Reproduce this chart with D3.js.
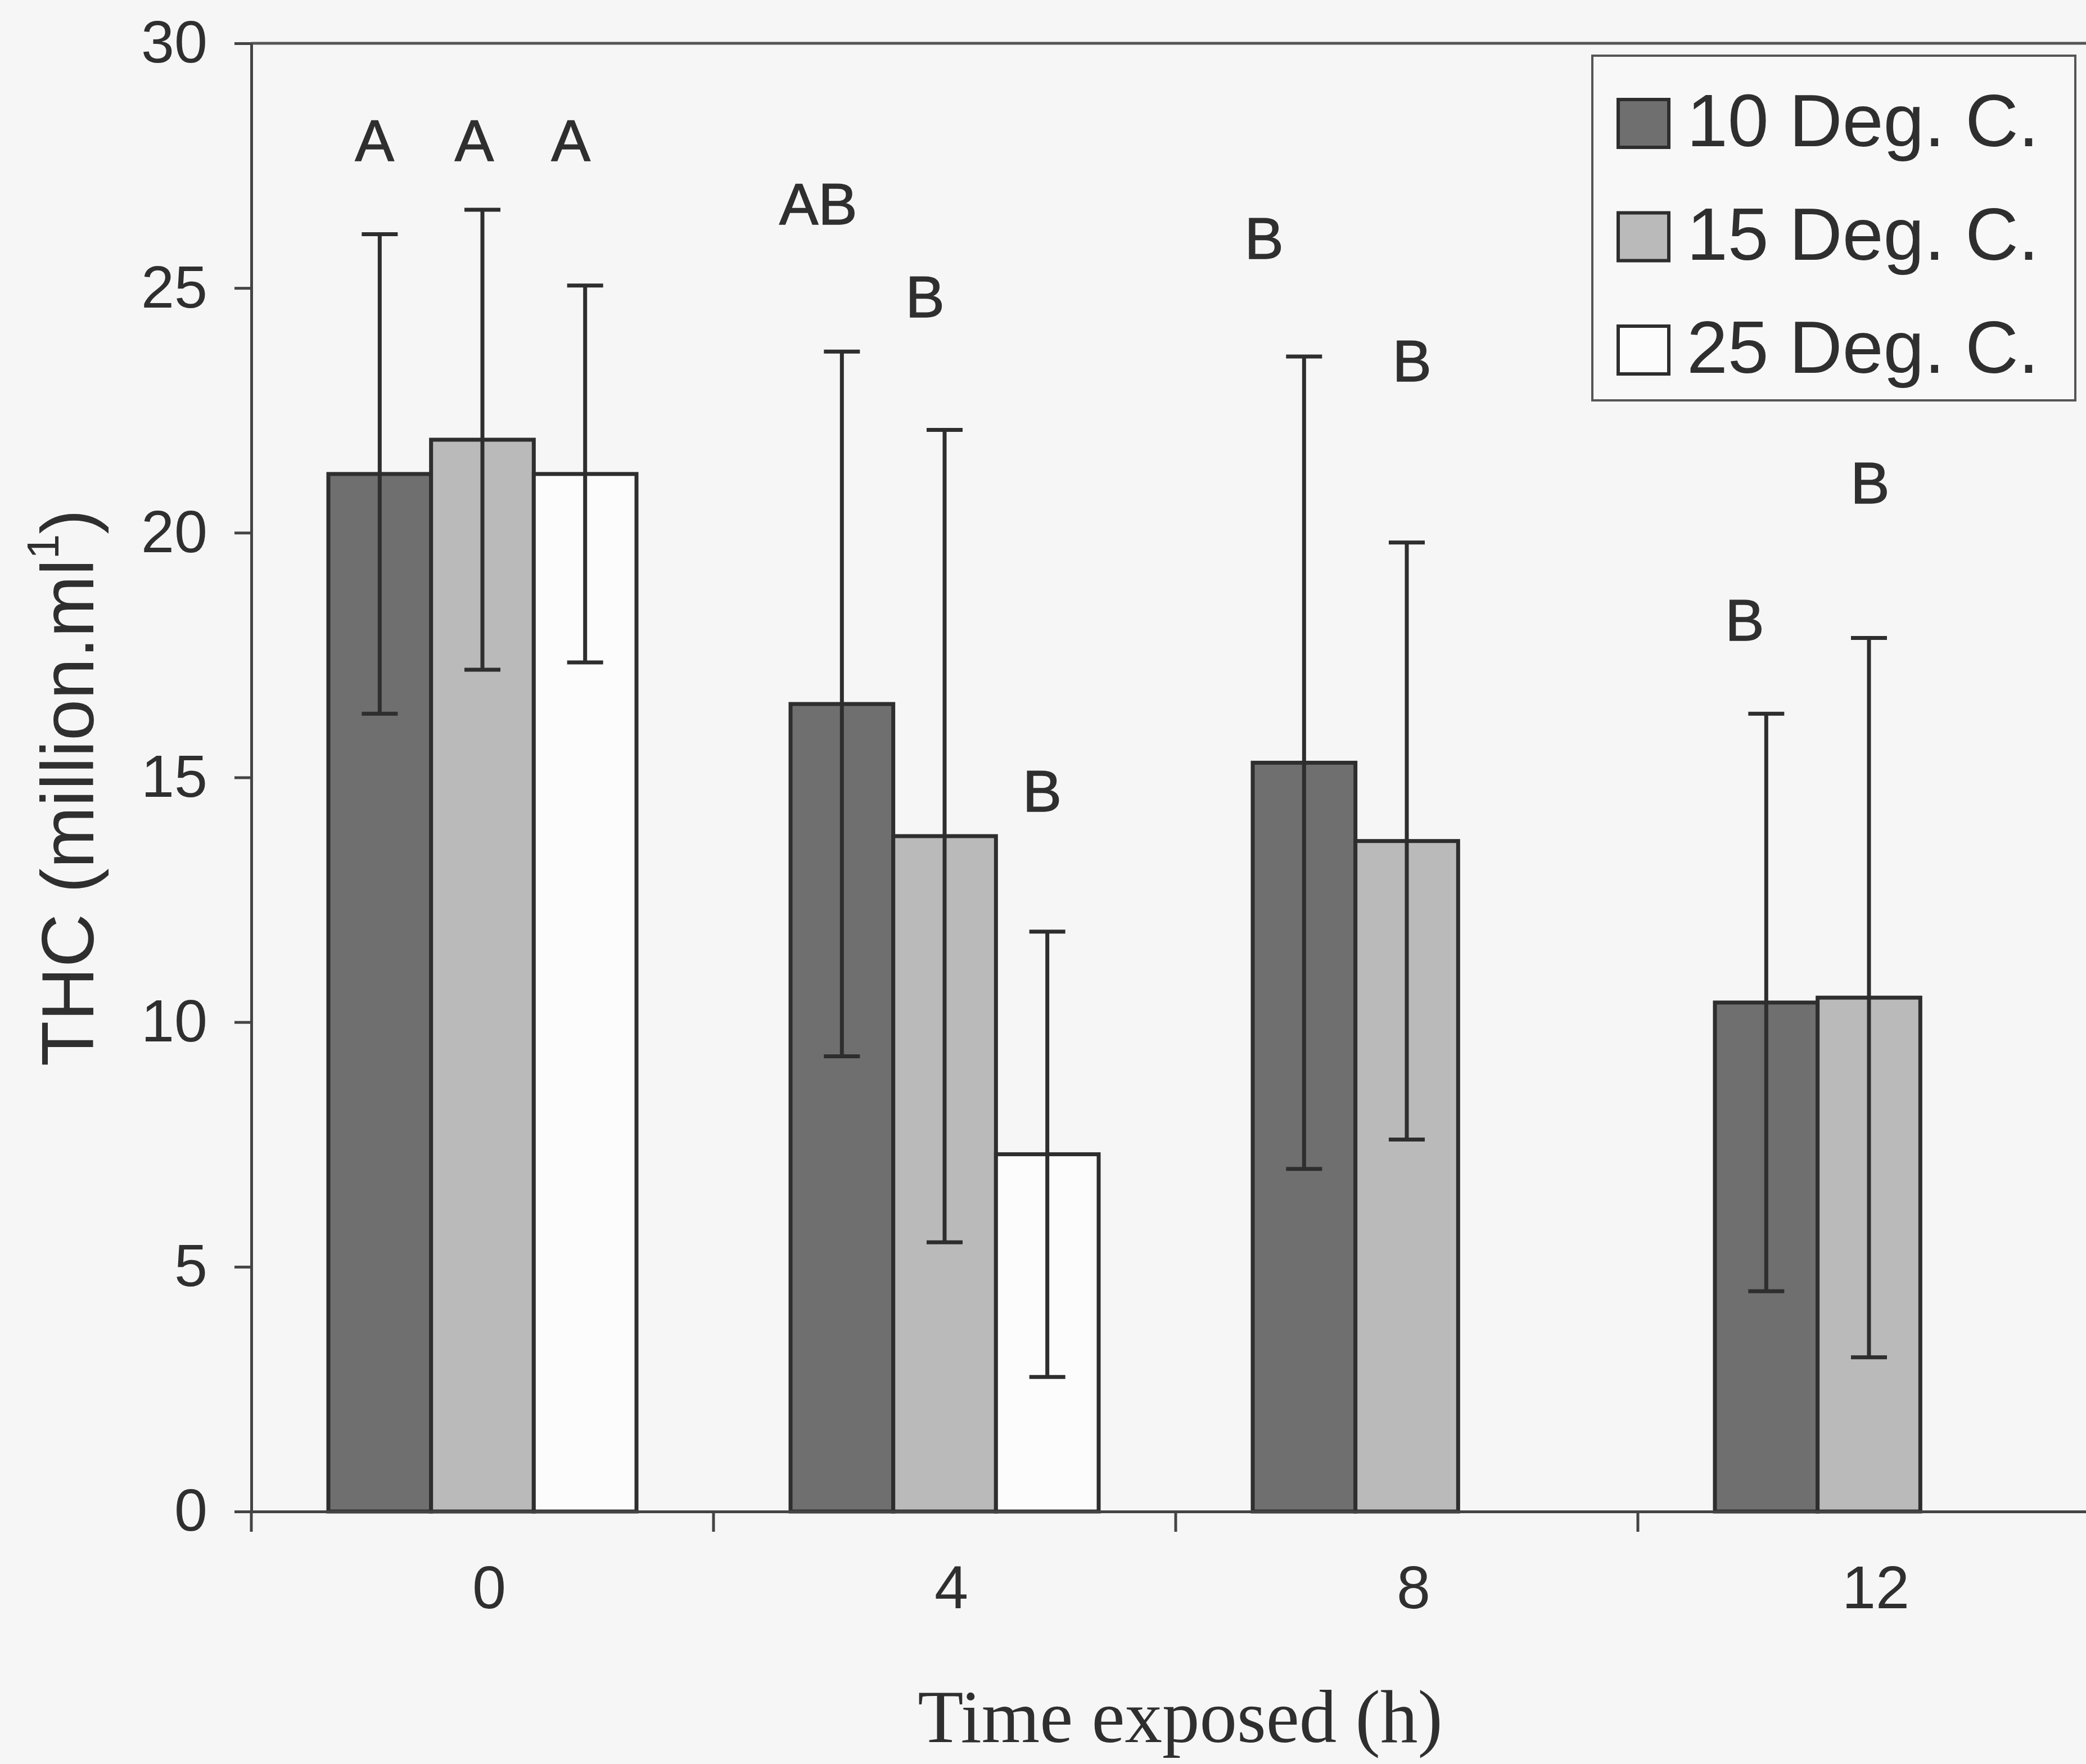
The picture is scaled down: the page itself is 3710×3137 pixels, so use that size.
<!DOCTYPE html>
<html>
<head>
<meta charset="utf-8">
<script src="https://cdn.jsdelivr.net/npm/d3@7"></script>
<style>
  body { margin: 0; background: #f6f6f6; }
  svg { display: block; }
  text { font-family: 'Liberation Sans', Arial, sans-serif; fill: #2f2f2f; }
  .x-title { font-family: 'Liberation Serif', 'Times New Roman', serif; }
</style>
</head>
<body>
<svg width="3710" height="3137"></svg>
<script>
const categories = ['0', '4', '8', '12'];
const seriesNames = ['10 Deg. C.', '15 Deg. C.', '25 Deg. C.'];

const means10 = [21.2, 16.5, 15.3, 10.4];
const means15 = [21.9, 13.8, 13.7, 10.5];
const means25 = [21.2, 7.3, null, null];

const err10 = [4.9, 7.2, 8.3, 5.9];
const err15 = [4.7, 8.3, 6.1, 7.35];
const err25 = [3.85, 4.55, null, null];

// significance letters, with the height (in THC units) they sit at
const letters10 = ['A', 'AB', 'B', 'B'];
const letters15 = ['A', 'B', 'B', 'B'];
const letters25 = ['A', 'B', null, null];
const letterLevel10 = [27.6, 26.3, 25.6, 17.8];
const letterLevel15 = [27.6, 24.4, 23.1, 20.6];
const letterLevel25 = [27.6, 14.3, null, null];

const yTicks = [0, 5, 10, 15, 20, 25, 30];

const xAxisLabelText = 'Time exposed (h)';
const yAxisLabelText = 'THC (million.ml';

// layout only
const letterShift = [[-0.05, -0.23, -0.39, -0.21], [-0.08, -0.19, 0.05, 0.01], [-0.14, -0.05, 0, 0]];
const fills = ['#6f6f6f', '#bababa', '#fcfcfc'];

const svg = d3.select('svg');
const width = +svg.attr('width');
const height = +svg.attr('height');

svg.append('rect')
  .attr('width', width)
  .attr('height', height)
  .attr('fill', '#f6f6f6');

const means = [means10, means15, means25];
const errs = [err10, err15, err25];
const letters = [letters10, letters15, letters25];
const letterLevels = [letterLevel10, letterLevel15, letterLevel25];

const rows = [];
categories.forEach((c, i) => {
  seriesNames.forEach((s, j) => {
    rows.push({
      cat: c, series: s, si: j,
      value: means[j][i], err: errs[j][i],
      letter: letters[j][i], level: letterLevels[j][i],
      shift: letterShift[j][i]
    });
  });
});

const margin = { top: 77, right: -25, bottom: 449, left: 447 };
const innerWidth = width - margin.left - margin.right;
const innerHeight = height - margin.top - margin.bottom;

const x0 = d3.scaleBand()
  .domain(categories)
  .range([0, innerWidth]);

const x1 = d3.scaleBand()
  .domain(seriesNames)
  .range([0, x0.bandwidth()])
  .paddingInner(0)
  .paddingOuter(0.75);

const y = d3.scaleLinear()
  .domain([0, 30])
  .range([innerHeight, 0]);

const g = svg.append('g')
  .attr('transform', `translate(${margin.left},${margin.top})`);

const bw = x1.bandwidth();
const barX = d => x0(d.cat) + x1(d.series);

// top border of the plot area
g.append('line')
  .attr('x1', 0).attr('x2', innerWidth)
  .attr('y1', y(30)).attr('y2', y(30))
  .attr('stroke', '#555').attr('stroke-width', 5);

// bars
g.selectAll('rect.bar').data(rows.filter(d => d.value != null))
  .enter().append('rect')
    .attr('class', 'bar')
    .attr('x', barX)
    .attr('y', d => y(d.value))
    .attr('width', bw)
    .attr('height', d => innerHeight - y(d.value))
    .attr('fill', d => fills[d.si])
    .attr('stroke', '#2e2e2e')
    .attr('stroke-width', 7);

// error bars
const eb = g.selectAll('g.err').data(rows.filter(d => d.value != null))
  .enter().append('g')
    .attr('class', 'err')
    .attr('transform', d => `translate(${barX(d) + bw / 2},0)`)
    .attr('stroke', '#2e2e2e')
    .attr('stroke-width', 7);

eb.append('line')
  .attr('y1', d => y(d.value + d.err))
  .attr('y2', d => y(d.value - d.err));

eb.selectAll('line.cap')
  .data(d => [d.value + d.err, d.value - d.err])
  .enter().append('line')
    .attr('class', 'cap')
    .attr('x1', -32).attr('x2', 32)
    .attr('y1', v => y(v)).attr('y2', v => y(v));

// y axis
const yAxisG = g.append('g')
  .call(d3.axisLeft(y).tickValues(yTicks).tickSize(30).tickSizeOuter(0).tickPadding(48));
yAxisG.select('.domain').attr('stroke', '#444').attr('stroke-width', 5);
yAxisG.selectAll('.tick line').attr('stroke', '#444').attr('stroke-width', 5);
yAxisG.selectAll('.tick text')
  .attr('font-size', 106)
  .attr('fill', '#2f2f2f')
  .attr('font-family', "'Liberation Sans', Arial, sans-serif");

// x axis
const xAxisG = g.append('g')
  .attr('transform', `translate(0,${innerHeight})`)
  .call(d3.axisBottom(x0).tickSize(0).tickSizeOuter(0).tickPadding(95));
xAxisG.select('.domain').attr('stroke', '#444').attr('stroke-width', 5);
xAxisG.selectAll('.tick text')
  .attr('font-size', 108)
  .attr('dx', 12)
  .attr('fill', '#2f2f2f')
  .attr('font-family', "'Liberation Sans', Arial, sans-serif");

const boundaries = categories.map(c => x0(c)).concat([x0.range()[1]]);
xAxisG.selectAll('line.cat-tick').data(boundaries)
  .enter().append('line')
    .attr('class', 'cat-tick')
    .attr('x1', d => d).attr('x2', d => d)
    .attr('y1', 0).attr('y2', 36)
    .attr('stroke', '#444').attr('stroke-width', 5);

// significance letters
g.selectAll('text.letter').data(rows.filter(d => d.letter))
  .enter().append('text')
    .attr('class', 'letter')
    .attr('x', d => barX(d) + bw / 2 + d.shift * bw)
    .attr('y', d => y(d.level))
    .attr('text-anchor', 'middle')
    .attr('font-size', 104)
    .attr('stroke', '#2f2f2f')
    .attr('stroke-width', 1.5)
    .text(d => d.letter);

// axis titles
svg.append('text')
  .attr('class', 'x-title')
  .attr('x', 2099)
  .attr('y', 3098)
  .attr('text-anchor', 'middle')
  .attr('font-size', 133)
  .text(xAxisLabelText);

const yTitle = svg.append('text')
  .attr('transform', 'translate(166,1401) rotate(-90)')
  .attr('text-anchor', 'middle')
  .attr('font-size', 132);
yTitle.append('tspan').text(yAxisLabelText);
yTitle.append('tspan').attr('font-size', 80).attr('dy', -62).text('1');
yTitle.append('tspan').attr('dy', 62).text(')');

// legend
const legend = svg.append('g')
  .attr('transform', 'translate(2832,99)');

legend.append('rect')
  .attr('width', 859)
  .attr('height', 613)
  .attr('fill', '#f8f8f8')
  .attr('stroke', '#555')
  .attr('stroke-width', 4);

const item = legend.selectAll('g.item').data(seriesNames)
  .enter().append('g')
    .attr('class', 'item')
    .attr('transform', (d, i) => `translate(46,${78 + i * 201.5})`);

item.append('rect')
  .attr('width', 90)
  .attr('height', 85)
  .attr('fill', (d, i) => fills[i])
  .attr('stroke', '#2e2e2e')
  .attr('stroke-width', 6);

item.append('text')
  .attr('x', 122)
  .attr('y', 83)
  .attr('font-size', 131)
  .text(d => d);
</script>
</body>
</html>
